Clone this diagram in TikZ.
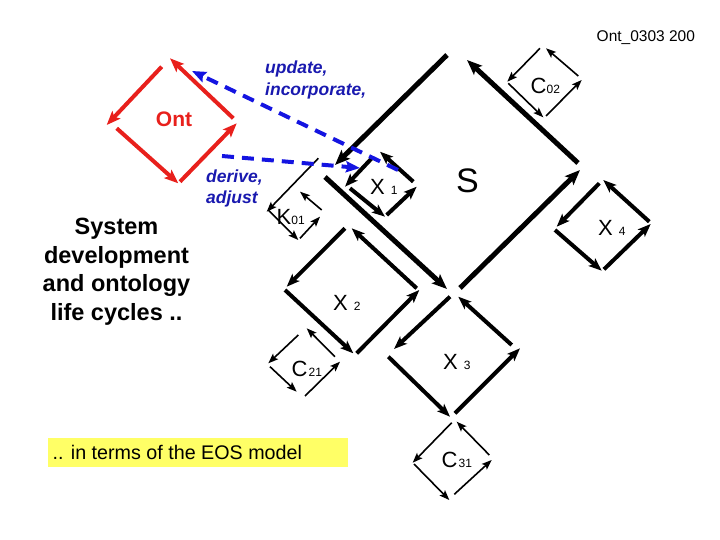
\documentclass[tikz,border=0pt]{standalone}
\usepackage{fontspec}
\setmainfont{Liberation Sans}
\usetikzlibrary{arrows.meta}
\definecolor{ontred}{RGB}{232,32,28}
\definecolor{dashblue}{RGB}{20,20,225}
\definecolor{txtblue}{RGB}{25,25,175}
\definecolor{boxyellow}{RGB}{255,255,102}
\newcommand{\cyclbl}[3][0pt]{{\fontsize{22}{22}\selectfont #2}\hspace{#1}{\fontsize{12}{12}\selectfont #3}}
\tikzset{
  bigcyc/.style={line width=5pt, -{Stealth[length=15pt,width=12pt,inset=3pt]}},
  midcyc/.style={line width=4pt, -{Stealth[length=13pt,width=10pt,inset=3pt]}},
  thincyc/.style={line width=1.6pt, -{Stealth[length=10pt,width=7.5pt,inset=2pt]}},
  ontcyc/.style={line width=4pt, color=ontred, -{Stealth[length=14pt,width=11pt,inset=3pt]}},
  flow/.style={color=dashblue, line width=4pt, dash pattern=on 12pt off 8pt, -{Stealth[length=14pt,width=11pt,inset=2pt]}},
  lbl/.style={inner sep=0pt, anchor=base west},
  clbl/.style={inner sep=0pt, anchor=base},
  bluetxt/.style={lbl, text=txtblue, font=\fontsize{17.5}{17.5}\selectfont\bfseries\itshape},
  systxt/.style={clbl, font=\fontsize{23.5}{23.5}\selectfont\bfseries},
}
\begin{document}
\begin{tikzpicture}[x=1pt,y=-1pt]
\useasboundingbox (0,0) rectangle (720,540);

% Ont cycle (red)
\draw[ontcyc] (161.7,66.7) -- (106.7,125);
\draw[ontcyc] (116.7,128.3) -- (178.3,183.3);
\draw[ontcyc] (180,181.7) -- (236.7,123.3);
\draw[ontcyc] (233.3,118.3) -- (170,58.3);
\node[clbl, text=ontred, font=\fontsize{21}{21}\selectfont\bfseries] (ont) at (174,126.7) {Ont};

% S cycle
\draw[bigcyc] (447,55) -- (335,165);
\draw[bigcyc] (325,177) -- (447,289);
\draw[bigcyc] (460,288) -- (580,170);
\draw[bigcyc] (578,163) -- (467,60);
\node[clbl, font=\fontsize{34}{34}\selectfont] (s) at (467.5,193) {S};

% X1
\draw[midcyc] (371.7,158.3) -- (345,186.7);
\draw[midcyc] (350,188.3) -- (385,216.7);
\draw[midcyc] (386.7,215) -- (416.7,186.7);
\draw[midcyc] (413.3,181.7) -- (380,151.7);
\node[lbl] (x1) at (370,195) {\cyclbl[6pt]{X}{1}};

% K01
\draw[thincyc] (318.3,158.3) -- (266.7,211.7);
\draw[thincyc] (268.3,210) -- (298.3,240);
\draw[thincyc] (300,238.3) -- (320,216.7);
\draw[thincyc] (321.7,210) -- (300,191.7);
\node[lbl] (k01) at (276.5,225) {\cyclbl{K}{01}};

% X2
\draw[midcyc] (345,228.3) -- (286.7,286.7);
\draw[midcyc] (285,290) -- (353.3,353.3);
\draw[midcyc] (356.7,353.3) -- (419.3,290);
\draw[midcyc] (416.7,288.3) -- (351.7,228.3);
\node[lbl] (x2) at (333,310) {\cyclbl[6pt]{X}{2}};

% C21
\draw[thincyc] (298.3,335) -- (268.3,363.3);
\draw[thincyc] (270,366.7) -- (296.7,391.7);
\draw[thincyc] (305,396) -- (340,361.7);
\draw[thincyc] (335,356.7) -- (306.7,328.3);
\node[lbl] (c21) at (291.5,376) {\cyclbl[1pt]{C}{21}};

% X3
\draw[midcyc] (450,296.7) -- (394,349);
\draw[midcyc] (388.3,356.7) -- (450,416.7);
\draw[midcyc] (455,413.3) -- (520,348.3);
\draw[midcyc] (511.7,345) -- (458.3,296.7);
\node[lbl] (x3) at (443,369.3) {\cyclbl[6pt]{X}{3}};

% C31
\draw[thincyc] (451.7,422.7) -- (412.7,462.7);
\draw[thincyc] (414,464) -- (449.3,500);
\draw[thincyc] (454.3,494.3) -- (491.7,460);
\draw[thincyc] (489.3,455) -- (456.7,421.7);
\node[lbl] (c31) at (441.5,467) {\cyclbl[1pt]{C}{31}};

% X4
\draw[midcyc] (599.3,183.3) -- (556.7,226.7);
\draw[midcyc] (555,230) -- (601.7,270.7);
\draw[midcyc] (604,269.3) -- (650.7,224);
\draw[midcyc] (649.3,221.7) -- (603.3,180);
\node[lbl] (x4) at (598,235.3) {\cyclbl[6pt]{X}{4}};

% C02
\draw[thincyc] (540,48.3) -- (507.3,81.7);
\draw[thincyc] (508.3,83.3) -- (543.3,117.3);
\draw[thincyc] (546,116) -- (581.7,80);
\draw[thincyc] (578.3,76) -- (546,48.3);
\node[lbl] (c02) at (530.5,93.5) {\cyclbl{C}{02}};

% blue flows
\coordinate (upfrom) at (398,170);
\coordinate (upto) at (192,71);
\coordinate (dnfrom) at (222,156);
\coordinate (dnto) at (360,168);
\draw[flow] (upfrom) -- (upto);
\draw[flow] (dnfrom) -- (dnto);
\node[bluetxt] (upd1) at (265,74) {update,};
\node[bluetxt] (upd2) at (265,95.5) {incorporate,};
\node[bluetxt] (der1) at (206,182.5) {derive,};
\node[bluetxt] (der2) at (206,203.5) {adjust};

% left text
\node[systxt] (sys1) at (116.5,235) {System};
\node[systxt] (sys2) at (116.5,263) {development};
\node[systxt] (sys3) at (116.5,291.5) {and ontology};
\node[systxt] (sys4) at (116.5,320) {life cycles ..};

% yellow box
\fill[boxyellow] (48,438) rectangle (348,467);
\node[lbl, font=\fontsize{19.7}{19.7}\selectfont] (eos) at (52.5,459.5) {.. in terms of the EOS model};

% id
\node[lbl, font=\fontsize{15.5}{15.5}\selectfont] (id) at (596.5,41.5) {Ont\_0303 200};
\end{tikzpicture}
\end{document}
